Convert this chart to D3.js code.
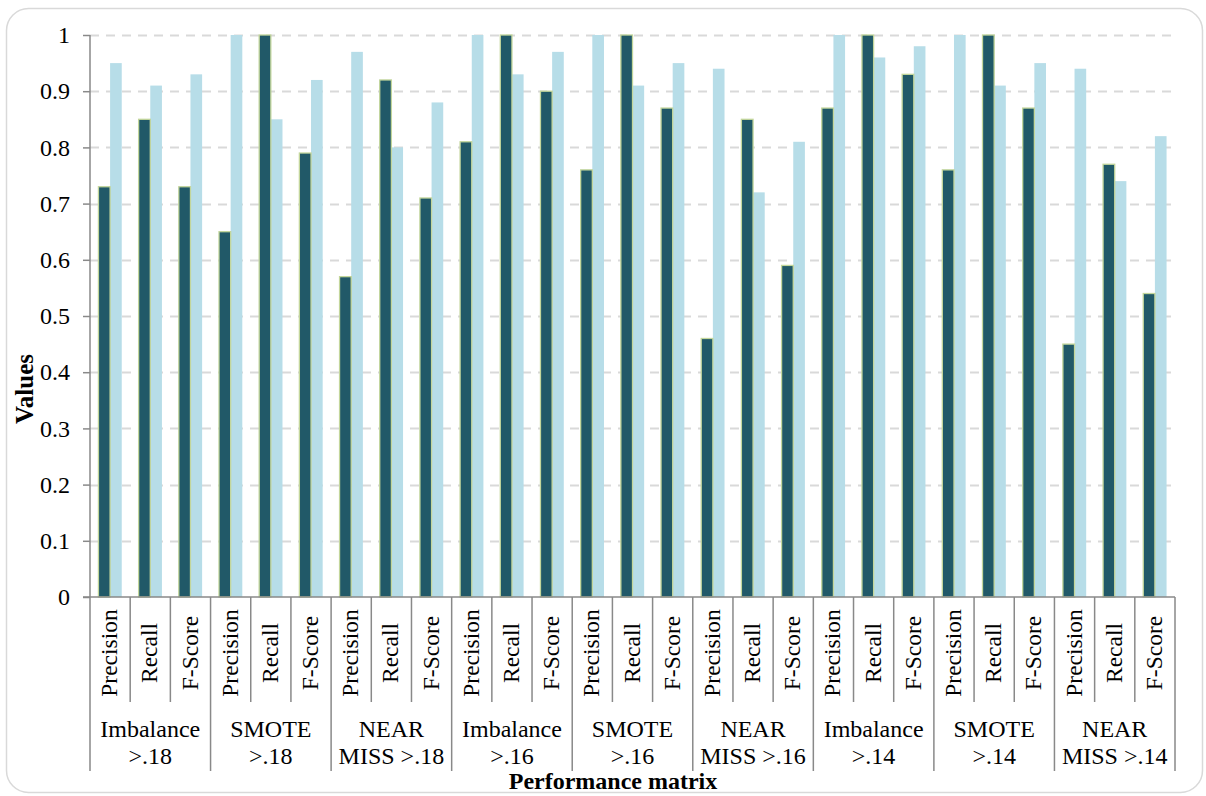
<!DOCTYPE html>
<html>
<head>
<meta charset="utf-8">
<script src="https://cdn.jsdelivr.net/npm/d3@7"></script>
<style>
  html, body { margin: 0; padding: 0; background: #fff; }
  svg { display: block; }
  text { font-family: "Liberation Serif", "Times New Roman", serif; fill: #000; }
</style>
</head>
<body>
<svg id="chart" width="1206" height="796"></svg>
<script>
// Sampling groups and the metrics reported for each
const groups = ["Imbalance\n>.18", "SMOTE\n>.18", "NEAR\nMISS >.18",
                "Imbalance\n>.16", "SMOTE\n>.16", "NEAR\nMISS >.16",
                "Imbalance\n>.14", "SMOTE\n>.14", "NEAR\nMISS >.14"];
const metrics = ["Precision", "Recall", "F-Score"];

// Two series, one value per group × metric (in order)
const seriesA = [0.73, 0.85, 0.73,  0.65, 1.00, 0.79,  0.57, 0.92, 0.71,
                 0.81, 1.00, 0.90,  0.76, 1.00, 0.87,  0.46, 0.85, 0.59,
                 0.87, 1.00, 0.93,  0.76, 1.00, 0.87,  0.45, 0.77, 0.54];
const seriesB = [0.95, 0.91, 0.93,  1.00, 0.85, 0.92,  0.97, 0.80, 0.88,
                 1.00, 0.93, 0.97,  1.00, 0.91, 0.95,  0.94, 0.72, 0.81,
                 1.00, 0.96, 0.98,  1.00, 0.91, 0.95,  0.94, 0.74, 0.82];
const yTicks = [0, 0.1, 0.2, 0.3, 0.4, 0.5, 0.6, 0.7, 0.8, 0.9, 1];

const rows = [];
groups.forEach((g, gi) => metrics.forEach((m, mi) => {
  const i = gi * metrics.length + mi;
  rows.push({ key: i, group: g, metric: m, a: seriesA[i], b: seriesB[i] });
}));

const svg = d3.select("#chart");
const plotL = 90, plotR = 1175, plotT = 35, plotB = 597;
const axisColor = "#898989";

// outer chart frame
svg.append("rect")
  .attr("x", 6.5).attr("y", 8.5).attr("width", 1196).attr("height", 784)
  .attr("rx", 22).attr("ry", 22)
  .attr("fill", "#fff").attr("stroke", "#d9d9d9").attr("stroke-width", 1.5);

const x = d3.scaleBand().domain(rows.map(d => d.key)).range([plotL, plotR]).padding(0);
const y = d3.scaleLinear().domain([0, 1]).range([plotB, plotT]);
const bw = x.bandwidth() * 0.29;
const inner = d3.scaleBand().domain(["a", "b"]).range([0, bw * 2]).padding(0);
const offset = (x.bandwidth() - bw * 2) / 2;

// dashed horizontal gridlines
svg.append("g").selectAll("line").data(yTicks.filter(t => t > 0)).join("line")
  .attr("x1", plotL).attr("x2", plotR)
  .attr("y1", d => Math.round(y(d)) + 0.5).attr("y2", d => Math.round(y(d)) + 0.5)
  .attr("stroke", "#d9d9d9").attr("stroke-width", 2).attr("stroke-dasharray", "9,7");

// bars
const barG = svg.append("g");
barG.selectAll("rect.b").data(rows).join("rect").attr("class", "b")
  .attr("x", d => x(d.key) + offset + inner("b"))
  .attr("width", inner.bandwidth())
  .attr("y", d => y(d.b)).attr("height", d => y(0) - y(d.b))
  .attr("fill", "#b7dde8");
barG.selectAll("rect.a").data(rows).join("rect").attr("class", "a")
  .attr("x", d => x(d.key) + offset + inner("a"))
  .attr("width", inner.bandwidth())
  .attr("y", d => y(d.a)).attr("height", d => y(0) - y(d.a))
  .attr("fill", "#215968").attr("stroke", "#c3d69b").attr("stroke-width", 1.3);

// y axis
const yAxis = d3.axisLeft(y).tickValues(yTicks).tickSize(7).tickPadding(13)
  .tickFormat(d => d === 0 ? "0" : d === 1 ? "1" : d3.format(".1f")(d));
const yg = svg.append("g").attr("transform", `translate(${plotL},0)`).call(yAxis);
yg.select(".domain").remove();
yg.selectAll(".tick line").attr("stroke", axisColor).attr("stroke-width", 1.5);
yg.selectAll(".tick text").attr("font-size", 24).attr("font-family", "Liberation Serif").attr("fill", "#000");
svg.append("line").attr("x1", plotL).attr("x2", plotL).attr("y1", plotT).attr("y2", 771)
  .attr("stroke", axisColor).attr("stroke-width", 1.5);

// x axis baseline
svg.append("line").attr("x1", plotL - 7).attr("x2", plotR).attr("y1", plotB).attr("y2", plotB)
  .attr("stroke", axisColor).attr("stroke-width", 1.5);

// separators between metrics (short) and between groups (long)
const bounds = d3.range(1, rows.length + 1).map(i => x(i - 1) + x.bandwidth());
svg.append("g").selectAll("line").data(bounds).join("line")
  .attr("x1", d => d).attr("x2", d => d)
  .attr("y1", plotB)
  .attr("y2", (d, i) => ((i + 1) % metrics.length === 0) ? 771 : 702)
  .attr("stroke", axisColor).attr("stroke-width", 1.5);

// rotated metric labels
svg.append("g").selectAll("text").data(rows).join("text")
  .attr("transform", d => `translate(${x(d.key) + x.bandwidth() / 2},653) rotate(-90)`)
  .attr("text-anchor", "middle").attr("dy", "0.3em")
  .attr("font-size", 23.5)
  .text(d => d.metric);

// group labels, two lines each
const gl = svg.append("g").selectAll("text").data(groups).join("text")
  .attr("text-anchor", "middle").attr("font-size", 24)
  .attr("x", (d, i) => (x(i * 3) + x(i * 3 + 2) + x.bandwidth()) / 2);
gl.selectAll("tspan").data(d => d.split("\n")).join("tspan")
  .attr("x", function () { return this.parentNode.getAttribute("x"); })
  .attr("y", (d, i) => 737 + i * 27)
  .text(d => d);

// axis titles
svg.append("text").attr("x", 613).attr("y", 789)
  .attr("text-anchor", "middle").attr("font-weight", "bold").attr("font-size", 24)
  .text("Performance matrix");
svg.append("text").attr("transform", "translate(33,389) rotate(-90)")
  .attr("text-anchor", "middle").attr("font-weight", "bold").attr("font-size", 25)
  .text("Values");
</script>
</body>
</html>
